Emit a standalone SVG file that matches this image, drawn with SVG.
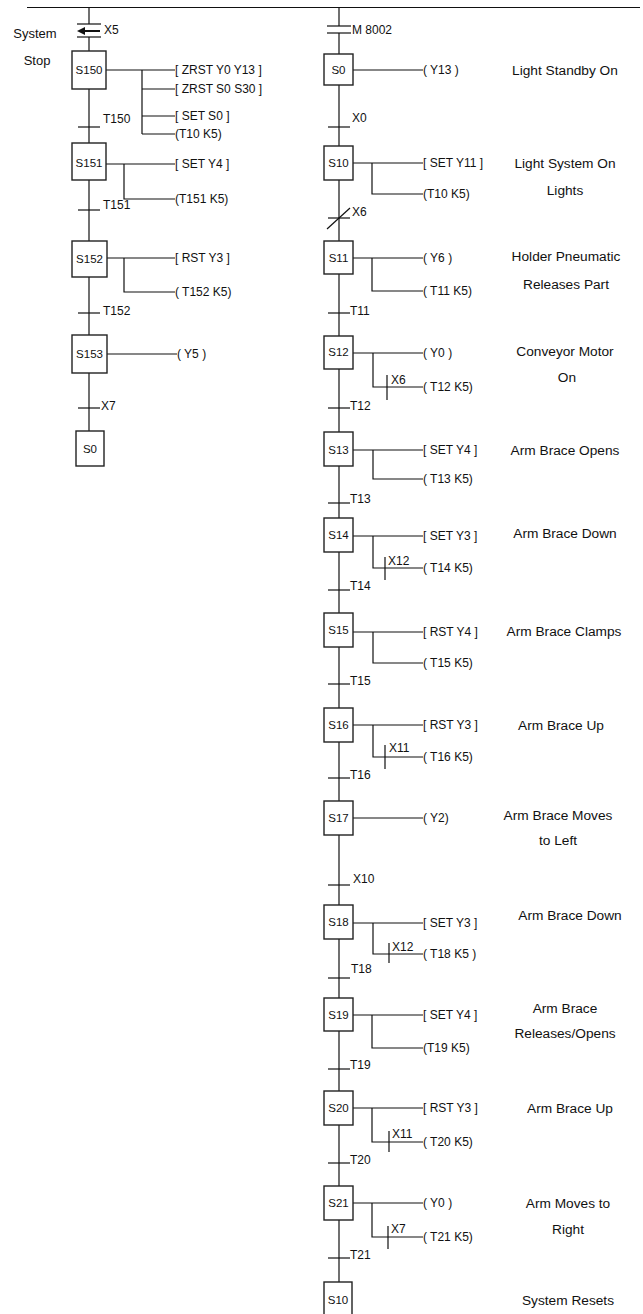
<svg xmlns="http://www.w3.org/2000/svg" width="643" height="1314" viewBox="0 0 643 1314">
<style>
.ln{stroke:#111;stroke-width:1.2;fill:none}
.bx{fill:#fff;stroke:#222;stroke-width:1.4}
text{font-family:"Liberation Sans",Arial,sans-serif;fill:#111;dominant-baseline:central}
.s{font-size:11.5px;text-anchor:middle}
.a{font-size:12px}
.l{font-size:12px}
.d{font-size:13.7px;text-anchor:middle}
</style>
<rect width="643" height="1314" fill="#fff"/>
<g id="connectors">
<line class="ln" x1="27" y1="7.5" x2="640" y2="7.5"/>
<line class="ln" x1="89" y1="7.5" x2="89" y2="24"/>
<line class="ln" x1="89" y1="37" x2="89" y2="431"/>
<line class="ln" x1="339" y1="7.5" x2="339" y2="26"/>
<line class="ln" x1="339" y1="33" x2="339" y2="1290"/>
<line class="ln" x1="77" y1="24" x2="101" y2="24"/>
<line class="ln" x1="77" y1="37" x2="101" y2="37"/>
<line x1="84" y1="31" x2="100" y2="31" stroke="#111" stroke-width="2"/>
<polygon points="77,31 85,27 85,35" fill="#111"/>
<line class="ln" x1="327" y1="26" x2="351" y2="26"/>
<line class="ln" x1="327" y1="33" x2="351" y2="33"/>
<line class="ln" x1="78" y1="127" x2="100" y2="127"/>
<line class="ln" x1="78" y1="210" x2="100" y2="210"/>
<line class="ln" x1="78" y1="313" x2="100" y2="313"/>
<line class="ln" x1="78" y1="408" x2="100" y2="408"/>
<path class="ln" d="M106 70H175M142 70V134M142 89H175M142 116H175M142 134H175"/>
<path class="ln" d="M106 164H175M124 164V199H175"/>
<path class="ln" d="M107 258H175M124 258V292H175"/>
<path class="ln" d="M107 354H177"/>
<line class="ln" x1="328" y1="127" x2="350" y2="127"/>
<line class="ln" x1="328" y1="218" x2="350" y2="218"/>
<line class="ln" x1="327" y1="229" x2="350" y2="208"/>
<line class="ln" x1="328" y1="313" x2="350" y2="313"/>
<line class="ln" x1="328" y1="408" x2="350" y2="408"/>
<line class="ln" x1="328" y1="503" x2="350" y2="503"/>
<line class="ln" x1="328" y1="590" x2="350" y2="590"/>
<line class="ln" x1="328" y1="684" x2="350" y2="684"/>
<line class="ln" x1="328" y1="778" x2="350" y2="778"/>
<line class="ln" x1="328" y1="885" x2="350" y2="885"/>
<line class="ln" x1="328" y1="978" x2="350" y2="978"/>
<line class="ln" x1="328" y1="1069" x2="350" y2="1069"/>
<line class="ln" x1="328" y1="1163" x2="350" y2="1163"/>
<line class="ln" x1="328" y1="1258" x2="350" y2="1258"/>
<path class="ln" d="M353 70H423"/>
<path class="ln" d="M353 163H423M372 163V194H423"/>
<path class="ln" d="M353 258H423M372 258V291H423"/>
<path class="ln" d="M353 353H423M373 353V387H423M387 375V400"/>
<path class="ln" d="M353 450H423M373 450V479H423"/>
<path class="ln" d="M353 536H423M373 536V568H423M385 557V580"/>
<path class="ln" d="M353 632H423M373 632V663H423"/>
<path class="ln" d="M353 725H423M373 725V757H423M385 745V769"/>
<path class="ln" d="M353 818H423"/>
<path class="ln" d="M353 923H423M373 923V954H423M389 943V963"/>
<path class="ln" d="M353 1015H423M372 1015V1048H423"/>
<path class="ln" d="M353 1108H423M372 1108V1142H423M389 1131V1152"/>
<path class="ln" d="M353 1203H423M372 1203V1237H423M388 1226V1249"/>
</g>
<g id="labels">
<text class="l" x="104" y="30">X5</text>
<text class="d" x="35" y="33" style="font-size:13px">System</text>
<text class="d" x="37" y="60" style="font-size:13px">Stop</text>
<text class="l" x="103" y="119">T150</text>
<text class="l" x="103" y="205">T151</text>
<text class="l" x="103" y="311">T152</text>
<text class="l" x="101" y="406">X7</text>
<text class="l" x="352" y="30">M 8002</text>
<text class="l" x="352" y="118">X0</text>
<text class="l" x="352" y="212">X6</text>
<text class="l" x="350" y="311">T11</text>
<text class="l" x="350" y="406">T12</text>
<text class="l" x="350" y="499">T13</text>
<text class="l" x="350" y="586">T14</text>
<text class="l" x="350" y="681">T15</text>
<text class="l" x="350" y="775">T16</text>
<text class="l" x="353" y="879">X10</text>
<text class="l" x="351" y="969">T18</text>
<text class="l" x="350" y="1065">T19</text>
<text class="l" x="350" y="1160">T20</text>
<text class="l" x="350" y="1255">T21</text>
<text class="l" x="391" y="380">X6</text>
<text class="l" x="388" y="561">X12</text>
<text class="l" x="389" y="748">X11</text>
<text class="l" x="392" y="947">X12</text>
<text class="l" x="392" y="1134">X11</text>
<text class="l" x="391" y="1229">X7</text>
</g>
<g id="S150"><rect class="bx" x="72" y="51" width="34" height="38"/><text class="s" x="89" y="70">S150</text>
<text class="a" x="175" y="70">[ ZRST Y0 Y13 ]</text><text class="a" x="175" y="89">[ ZRST S0 S30 ]</text><text class="a" x="175" y="116">[ SET S0 ]</text><text class="a" x="175" y="134">(T10 K5)</text></g>
<g id="S151"><rect class="bx" x="72" y="143" width="34" height="37"/><text class="s" x="89" y="163">S151</text>
<text class="a" x="175" y="164">[ SET Y4 ]</text><text class="a" x="175" y="199">(T151 K5)</text></g>
<g id="S152"><rect class="bx" x="72" y="241" width="35" height="36"/><text class="s" x="89.5" y="259">S152</text>
<text class="a" x="175" y="258">[ RST Y3 ]</text><text class="a" x="175" y="292">( T152 K5)</text></g>
<g id="S153"><rect class="bx" x="72" y="335" width="35" height="38"/><text class="s" x="89.5" y="354">S153</text>
<text class="a" x="177" y="354">( Y5 )</text></g>
<g id="S0_left"><rect class="bx" x="76" y="431" width="28" height="35"/><text class="s" x="90" y="449">S0</text></g>
<g id="S0"><rect class="bx" x="324" y="54" width="29" height="31"/><text class="s" x="338.5" y="70">S0</text>
<text class="a" x="423" y="70">( Y13 )</text><text class="d" x="565" y="70">Light Standby On</text></g>
<g id="S10"><rect class="bx" x="324" y="146" width="29" height="34"/><text class="s" x="338.5" y="163">S10</text>
<text class="a" x="423" y="163">[ SET Y11 ]</text><text class="a" x="423" y="194">(T10 K5)</text>
<text class="d" x="565" y="163">Light System On</text><text class="d" x="565" y="190">Lights</text></g>
<g id="S11"><rect class="bx" x="324" y="241" width="29" height="33"/><text class="s" x="338.5" y="258">S11</text>
<text class="a" x="423" y="258">( Y6 )</text><text class="a" x="423" y="291">( T11 K5)</text>
<text class="d" x="566" y="256">Holder Pneumatic</text><text class="d" x="566" y="284">Releases Part</text></g>
<g id="S12"><rect class="bx" x="324" y="336" width="29" height="33"/><text class="s" x="338.5" y="352">S12</text>
<text class="a" x="423" y="353">( Y0 )</text><text class="a" x="423" y="387">( T12 K5)</text>
<text class="d" x="565" y="351">Conveyor Motor</text><text class="d" x="567" y="377">On</text></g>
<g id="S13"><rect class="bx" x="324" y="432" width="29" height="34"/><text class="s" x="338.5" y="450">S13</text>
<text class="a" x="423" y="450">[ SET Y4 ]</text><text class="a" x="423" y="479">( T13 K5)</text>
<text class="d" x="565" y="450">Arm Brace Opens</text></g>
<g id="S14"><rect class="bx" x="324" y="518" width="29" height="34"/><text class="s" x="338.5" y="535">S14</text>
<text class="a" x="423" y="536">[ SET Y3 ]</text><text class="a" x="423" y="568">( T14 K5)</text>
<text class="d" x="565" y="533">Arm Brace Down</text></g>
<g id="S15"><rect class="bx" x="324" y="613" width="29" height="34"/><text class="s" x="338.5" y="630">S15</text>
<text class="a" x="423" y="632">[ RST Y4 ]</text><text class="a" x="423" y="663">( T15 K5)</text>
<text class="d" x="564" y="631">Arm Brace Clamps</text></g>
<g id="S16"><rect class="bx" x="324" y="708" width="29" height="34"/><text class="s" x="338.5" y="725">S16</text>
<text class="a" x="423" y="725">[ RST Y3 ]</text><text class="a" x="423" y="757">( T16 K5)</text>
<text class="d" x="561" y="725">Arm Brace Up</text></g>
<g id="S17"><rect class="bx" x="324" y="801" width="29" height="34"/><text class="s" x="338.5" y="818">S17</text>
<text class="a" x="423" y="818">( Y2)</text>
<text class="d" x="558" y="815">Arm Brace Moves</text><text class="d" x="558" y="840">to Left</text></g>
<g id="S18"><rect class="bx" x="324" y="905" width="29" height="34"/><text class="s" x="338.5" y="922">S18</text>
<text class="a" x="423" y="923">[ SET Y3 ]</text><text class="a" x="423" y="954">( T18 K5 )</text>
<text class="d" x="570" y="915">Arm Brace Down</text></g>
<g id="S19"><rect class="bx" x="324" y="998" width="29" height="33"/><text class="s" x="338.5" y="1015">S19</text>
<text class="a" x="423" y="1015">[ SET Y4 ]</text><text class="a" x="423" y="1048">(T19 K5)</text>
<text class="d" x="565" y="1008">Arm Brace</text><text class="d" x="565" y="1033">Releases/Opens</text></g>
<g id="S20"><rect class="bx" x="324" y="1091" width="29" height="34"/><text class="s" x="338.5" y="1108">S20</text>
<text class="a" x="423" y="1108">[ RST Y3 ]</text><text class="a" x="423" y="1142">( T20 K5)</text>
<text class="d" x="570" y="1108">Arm Brace Up</text></g>
<g id="S21"><rect class="bx" x="324" y="1186" width="29" height="34"/><text class="s" x="338.5" y="1203">S21</text>
<text class="a" x="423" y="1203">( Y0 )</text><text class="a" x="423" y="1237">( T21 K5)</text>
<text class="d" x="568" y="1203">Arm Moves to</text><text class="d" x="568" y="1229">Right</text></g>
<g id="S10_end"><rect class="bx" x="324" y="1282" width="28" height="40"/><text class="s" x="338" y="1300">S10</text>
<text class="d" x="568" y="1300">System Resets</text></g>
</svg>
